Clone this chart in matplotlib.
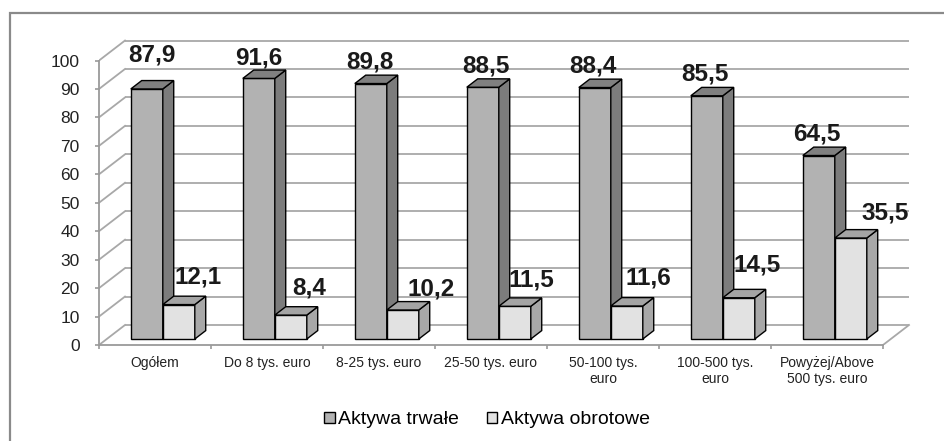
import matplotlib
matplotlib.use('Agg')
import matplotlib.pyplot as plt
from matplotlib.patches import Polygon, Rectangle, Patch
import numpy as np

# ---------------- data ----------------
categories = ['Ogółem', 'Do 8 tys. euro', '8-25 tys. euro', '25-50 tys. euro',
              '50-100 tys.\neuro', '100-500 tys.\neuro', 'Powyżej/Above\n500 tys. euro']
aktywa_trwale = [87.9, 91.6, 89.8, 88.5, 88.4, 85.5, 64.5]
aktywa_obrotowe = [12.1, 8.4, 10.2, 11.5, 11.6, 14.5, 35.5]
series_names = ['Aktywa trwałe', 'Aktywa obrotowe']
y_ticks = [0, 10, 20, 30, 40, 50, 60, 70, 80, 90, 100]

# value-label placement (pixel offsets from the front-face top centre)
label_dx_px = [[5, 0, -1, 3, -2, -1.5, -2],
               [19, 18, 28, 17, 22, 18.5, 34.5]]
label_dy_px = [[27, 13.5, 14.6, 14.6, 15, 15, 15],
               [21, 21, 14, 20, 22, 26, 19]]

# ---------------- style ----------------
plt.rcParams['font.family'] = ['Liberation Sans', 'DejaVu Sans']
front_cols = ['#b2b2b2', '#e2e2e2']
side_cols = ['#7c7c7c', '#a8a8a8']
top_cols = ['#808080', '#a4a4a4']
grid_col = '#a8a8a8'
axis_col = '#9a9a9a'

fig = plt.figure(figsize=(9.44, 4.41), dpi=100)
fig.patch.set_facecolor('white')
ax = fig.add_axes([99 / 944, (441 - 345) / 441, 817.6 / 944, 318.6 / 441])
ax.set_xlim(-0.5, 6.8)
ax.set_ylim(0, 112)
ax.set_facecolor('none')

# pseudo-3D depth (data units for full depth)
DX = 26 / 112.0
DY = 20 / 2.845
z0, z1 = 0.30, 0.72
dz = z1 - z0
n = len(categories)
x = np.arange(n)
w = 2.0 / 7.0

# back wall gridlines + side wall diagonals
for v in y_ticks:
    ax.plot([-0.5 + DX, n - 0.5 + DX], [v + DY, v + DY], color=grid_col, lw=1.3, zorder=1,
            solid_capstyle='butt')
    ax.plot([-0.5, -0.5 + DX], [v, v + DY], color=grid_col, lw=1.3, zorder=1)
# floor right edge
ax.plot([n - 0.5, n - 0.5 + DX], [0, DY], color=grid_col, lw=1.3, zorder=1)

# bars
b = z0 * DY
for s, vals in enumerate([aktywa_trwale, aktywa_obrotowe]):
    lefts = x - w + s * w + z0 * DX
    ax.bar(lefts, vals, width=w, bottom=b, align='edge', facecolor=front_cols[s],
           edgecolor='black', linewidth=1.0, zorder=3 + 2 * s)
    for k, (xl, v) in enumerate(zip(lefts, vals)):
        xr = xl + w
        side = Polygon([(xr, b), (xr, b + v), (xr + dz * DX, b + v + dz * DY),
                        (xr + dz * DX, b + dz * DY)], closed=True,
                       facecolor=side_cols[s], edgecolor='black', lw=1.0, zorder=4 + 2 * s)
        top = Polygon([(xl, b + v), (xr, b + v), (xr + dz * DX, b + v + dz * DY),
                       (xl + dz * DX, b + v + dz * DY)], closed=True,
                      facecolor=top_cols[s], edgecolor='black', lw=1.0, zorder=4 + 2 * s)
        ax.add_patch(side)
        ax.add_patch(top)
        lbl = f"{v:.1f}".replace('.', ',')
        ax.annotate(lbl, xy=(xl + w / 2, b + v),
                    xytext=(label_dx_px[s][k] * 0.72, label_dy_px[s][k] * 0.72),
                    textcoords='offset points', ha='center', va='baseline',
                    fontsize=17.5, fontweight='bold', color='#1a1a1a', zorder=10,
                    annotation_clip=False)

# axes spines / ticks
for sp in ['top', 'right']:
    ax.spines[sp].set_visible(False)
ax.spines['left'].set_bounds(0, 100)
ax.spines['bottom'].set_bounds(-0.5, n - 0.5)
for sp in ['left', 'bottom']:
    ax.spines[sp].set_color(axis_col)
    ax.spines[sp].set_linewidth(1.3)

ax.set_yticks(y_ticks)
ax.set_yticklabels([str(t) for t in y_ticks])
ax.tick_params(axis='y', direction='out', length=3, width=1.2, color=axis_col, pad=11,
               labelsize=12.5, labelcolor='#222222')
ax.set_xticks(x)
ax.set_xticklabels(categories)
ax.set_xticks(np.arange(n + 1) - 0.5, minor=True)
ax.tick_params(axis='x', which='major', length=0, pad=8, labelsize=10, labelcolor='#222222')
ax.tick_params(axis='x', which='minor', direction='out', length=3, width=1.2, color=axis_col)
for t in ax.get_xticklabels():
    t.set_linespacing(1.15)

# legend
handles = [Patch(facecolor=front_cols[i], edgecolor='black', linewidth=1.0) for i in range(2)]
fig.legend(handles, series_names, loc='center', bbox_to_anchor=(487 / 944, 1 - 420 / 441),
           ncol=2, frameon=False, fontsize=14, handlelength=0.55, handleheight=0.55,
           handletextpad=0.2, columnspacing=1.4)

# outer frame
fig.add_artist(Rectangle((9.5 / 944, -0.05), 1.2, 1 - 12.5 / 441 + 0.05, transform=fig.transFigure,
                         fill=False, edgecolor='#8a8a8a', linewidth=1.6))

fig.savefig('out.png', dpi=100)
